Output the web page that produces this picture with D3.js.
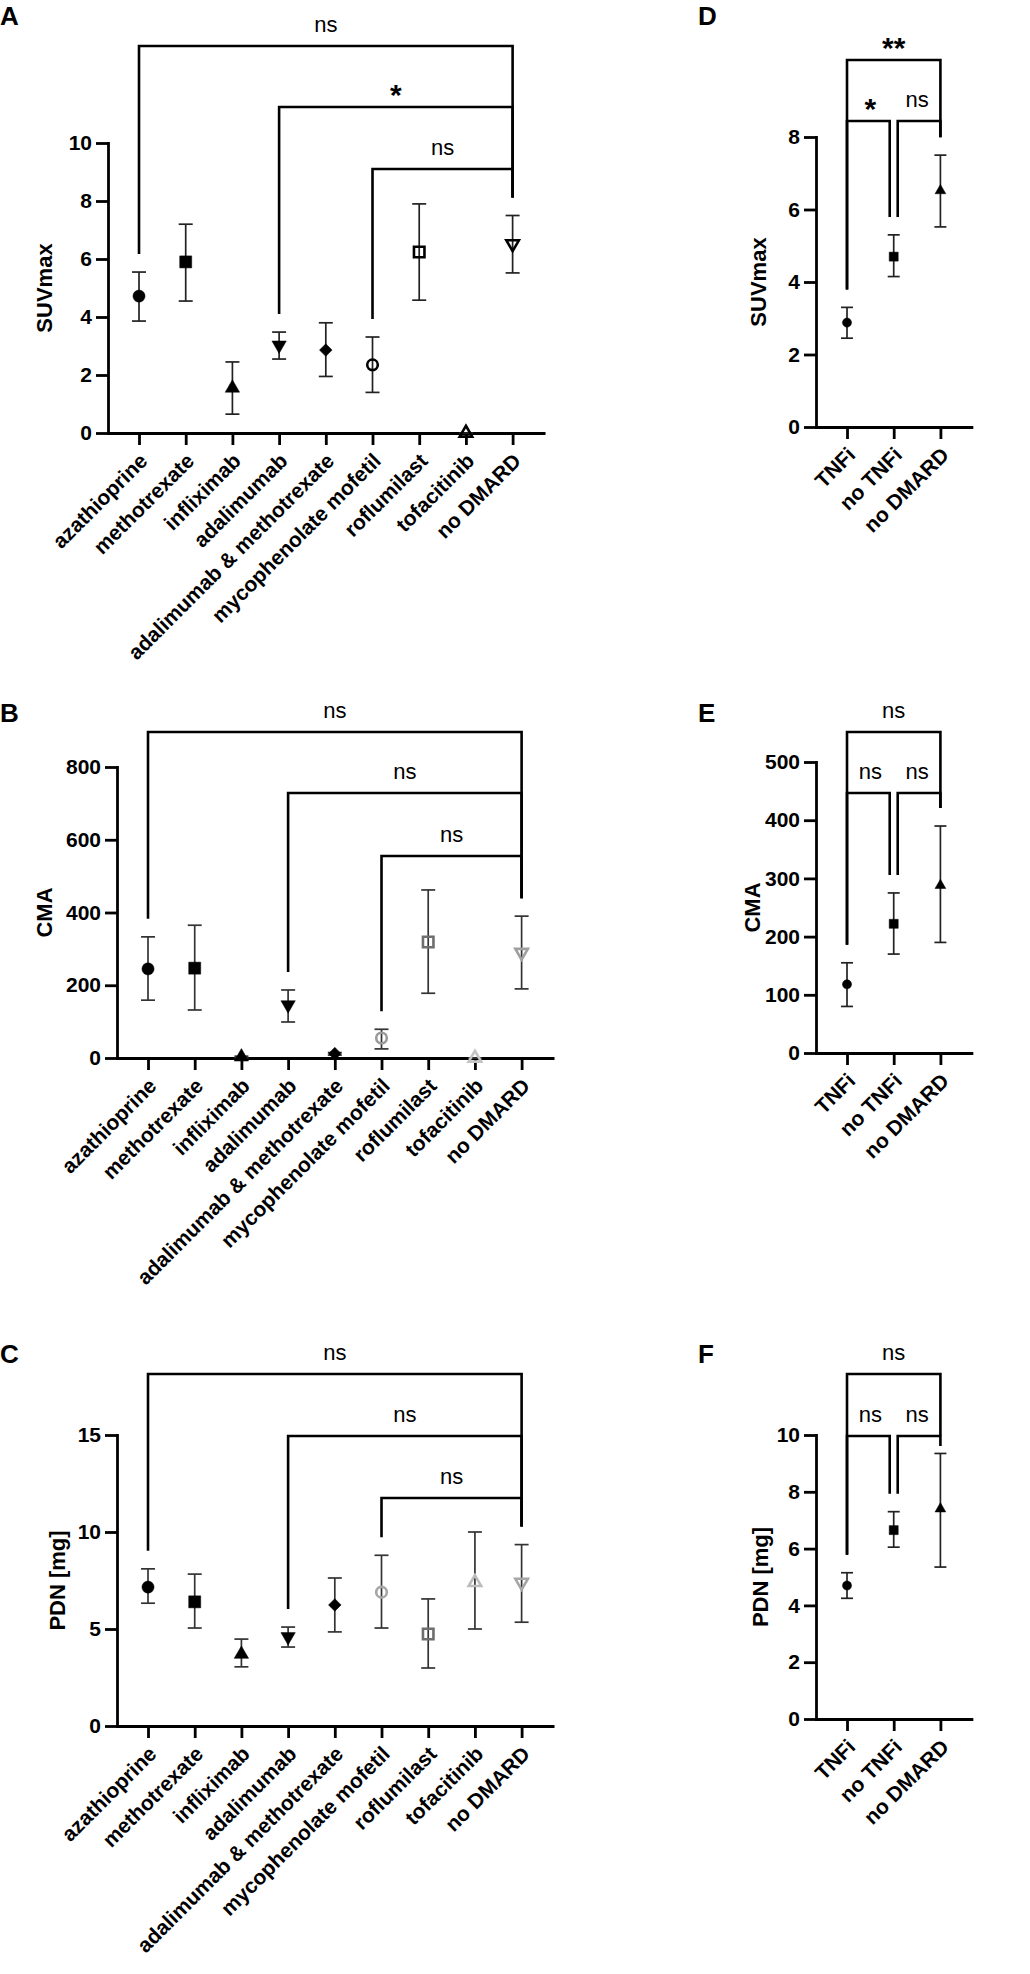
<!DOCTYPE html>
<html>
<head>
<meta charset="utf-8">
<script src="https://cdn.jsdelivr.net/npm/d3@7"></script>
<style>
body { margin: 0; background: #fff; }
text { font-family: "Liberation Sans", Arial, sans-serif; }
</style>
</head>
<body>
<script>
// categories
var drugs = ["azathioprine", "methotrexate", "infliximab", "adalimumab", "adalimumab & methotrexate",
             "mycophenolate mofetil", "roflumilast", "tofacitinib", "no DMARD"];
var groups = ["TNFi", "no TNFi", "no DMARD"];

// A - SUVmax per drug (mean, lower / upper error)
var suvMean = [4.72, 5.90, 1.55, 3.03, 2.86, 2.35, 6.24, 0, 6.52];
var suvLow  = [3.86, 4.55, 0.65, 2.55, 1.95, 1.40, 4.58, 0, 5.52];
var suvHigh = [5.55, 7.20, 2.45, 3.48, 3.80, 3.31, 7.90, 0, 7.50];

// B - CMA per drug
var cmaMean = [245, 247, 3, 146, 12, 55, 319, 0, 290];
var cmaLow  = [159, 132, 0, 99, 8, 25, 178, 0, 190];
var cmaHigh = [333, 365, 5, 187, 15, 79, 462, 0, 390];

// C - PDN [mg] per drug
var pdnMean = [7.16, 6.40, 3.70, 4.60, 6.24, 6.90, 4.74, 7.40, 7.40];
var pdnLow  = [6.33, 5.05, 3.05, 4.07, 4.85, 5.05, 2.99, 5.00, 5.35];
var pdnHigh = [8.10, 7.83, 4.48, 5.10, 7.63, 8.80, 6.55, 10.0, 9.35];

// D, E, F - grouped
var suvGrpMean = [2.88, 4.70, 6.52];
var suvGrpLow  = [2.45, 4.15, 5.52];
var suvGrpHigh = [3.30, 5.30, 7.50];
var cmaGrpMean = [118, 222, 288];
var cmaGrpLow  = [80, 170, 190];
var cmaGrpHigh = [155, 275, 390];
var pdnGrpMean = [4.70, 6.65, 7.40];
var pdnGrpLow  = [4.25, 6.05, 5.35];
var pdnGrpHigh = [5.15, 7.30, 9.35];

// tick labels
var suvTicks = [0, 2, 4, 6, 8, 10];
var cmaTicks = [0, 200, 400, 600, 800];
var pdnTicks = [0, 5, 10, 15];
var suvGrpTicks = [0, 2, 4, 6, 8];
var cmaGrpTicks = [0, 100, 200, 300, 400, 500];
var pdnGrpTicks = [0, 2, 4, 6, 8, 10];

// comparisons [from, to, label]
var cmpA = [[0, 8, "ns"], [3, 8, "*"], [5, 8, "ns"]];
var cmpB = [[0, 8, "ns"], [3, 8, "ns"], [5, 8, "ns"]];
var cmpC = [[0, 8, "ns"], [3, 8, "ns"], [5, 8, "ns"]];
var cmpD = [[0, 2, "**"], [0, 1, "*"], [1, 2, "ns"]];
var cmpE = [[0, 2, "ns"], [0, 1, "ns"], [1, 2, "ns"]];
var cmpF = [[0, 2, "ns"], [0, 1, "ns"], [1, 2, "ns"]];

// marker styles
var drugShapes = ["circle", "square", "triangle", "triangleDown", "diamond", "circle", "square", "triangle", "triangleDown"];
var drugFilled = [true, true, true, true, true, false, false, false, false];
var grpShapes = ["circle", "square", "triangle"];
var black9 = ["#000", "#000", "#000", "#000", "#000", "#000", "#000", "#000", "#000"];
var colB = ["#000", "#000", "#000", "#000", "#000", "#9a9a9a", "#6e6e6e", "#c4c4c4", "#a0a0a0"];
var colC = ["#000", "#000", "#000", "#000", "#000", "#a6a6a6", "#6e6e6e", "#bdbdbd", "#a6a6a6"];

var svg = d3.select("body").append("svg").attr("width", 1030).attr("height", 1974);

var PAD = 0.664;

function symbolPath(shape, s){
	var t = d3.symbolCircle, size = s * s * 0.8;
	if (shape == "square") { t = d3.symbolSquare; size = s * s; }
	if (shape == "triangle" || shape == "triangleDown") { t = d3.symbolTriangle; size = s * s * 0.62; }
	if (shape == "diamond") { t = d3.symbolSquare; size = s * s * 0.55; }
	return d3.symbol().type(t).size(size)();
}

function panel(p){
	var g = svg.append("g");
	var y = d3.scaleLinear().domain([0, p.ymax]).range([p.y0, p.yTop]);
	var n = p.cats.length;
	var x = d3.scalePoint().domain(d3.range(n))
		.range([p.axisX, p.axisX + p.step * (n - 1 + 2 * PAD)]).padding(PAD);

	// panel letter
	g.append("text").attr("x", p.letterX).attr("y", p.letterY)
		.attr("font-size", 26).attr("font-weight", "bold").text(p.letter);

	// y axis
	var ya = g.append("g").attr("transform", "translate(" + p.axisX + ",0)")
		.call(d3.axisLeft(y).tickValues(p.ticks).tickSize(12).tickSizeOuter(0).tickPadding(4));
	ya.select(".domain").attr("stroke-width", 2.8).attr("stroke-linecap", "square");
	ya.selectAll(".tick line").attr("stroke-width", 2.8);
	ya.selectAll(".tick text").attr("font-size", 21).attr("font-weight", "bold")
		.attr("font-family", null).attr("fill", "#000");

	// y title
	g.append("text")
		.attr("transform", "translate(" + p.titleX + "," + ((p.y0 + p.yTop) / 2) + ") rotate(-90)")
		.attr("text-anchor", "middle").attr("font-size", 22).attr("font-weight", "bold").text(p.title);

	// x axis
	var xa = g.append("g").attr("transform", "translate(0," + p.y0 + ")")
		.call(d3.axisBottom(x).tickSize(12).tickSizeOuter(0).tickFormat(function(i){ return p.cats[i]; }));
	xa.select(".domain").attr("stroke-width", 2.8).attr("stroke-linecap", "square");
	xa.selectAll(".tick line").attr("stroke-width", 2.8);
	xa.selectAll(".tick text")
		.attr("x", 0).attr("y", 0).attr("dy", "0.35em")
		.attr("text-anchor", "end")
		.attr("transform", "translate(4,24) rotate(-45)")
		.attr("font-size", 21).attr("font-weight", "bold")
		.attr("font-family", null).attr("fill", "#000");

	// error bars
	var eb = g.append("g").attr("stroke", p.barColor).attr("stroke-width", 1.7).attr("fill", "none");
	d3.range(n).forEach(function(i){
		var cx = x(i);
		eb.append("line").attr("x1", cx).attr("x2", cx).attr("y1", y(p.lo[i])).attr("y2", y(p.hi[i]));
		eb.append("line").attr("x1", cx - p.cap).attr("x2", cx + p.cap).attr("y1", y(p.lo[i])).attr("y2", y(p.lo[i]));
		eb.append("line").attr("x1", cx - p.cap).attr("x2", cx + p.cap).attr("y1", y(p.hi[i])).attr("y2", y(p.hi[i]));
	});

	// markers
	d3.range(n).forEach(function(i){
		var shape = p.shapes[i];
		var rot = shape == "triangleDown" ? 180 : (shape == "diamond" ? 45 : 0);
		var filled = p.filled[i];
		var s = filled ? p.msize : p.msize - 1.5;
		g.append("path")
			.attr("d", symbolPath(shape, s))
			.attr("transform", "translate(" + x(i) + "," + y(p.mean[i]) + ") rotate(" + rot + ")")
			.attr("fill", filled ? p.colors[i] : "none")
			.attr("stroke", p.colors[i])
			.attr("stroke-width", filled ? 0.5 : 2.6);
	});

	// significance brackets
	var bg = g.append("g");
	p.cmp.forEach(function(c, k){
		var by = p.brY[k];
		var x1 = x(c[0]), x2 = x(c[1]);
		p.cmp.forEach(function(o){
			if (o[0] == c[1]) x2 -= 4;
			if (o[1] == c[0]) x1 += 4;
		});
		var e1 = Math.max(y(p.hi[c[0]]) - 18, by + 10);
		var e2 = Math.max(y(p.hi[c[1]]) - 18, by + 10);
		bg.append("path")
			.attr("d", "M" + x1 + "," + e1 + "V" + by + "H" + x2 + "V" + e2)
			.attr("fill", "none").attr("stroke", "#000").attr("stroke-width", 2.6);
		var star = c[2] != "ns";
		bg.append("text")
			.attr("x", (x(c[0]) + x(c[1])) / 2)
			.attr("y", star ? by - 2 : by - 14)
			.attr("text-anchor", "middle")
			.attr("font-size", star ? 30 : 22)
			.attr("font-weight", star ? "bold" : "normal")
			.text(c[2]);
	});
}

panel({letter: "A", letterX: 0, letterY: 25, cats: drugs, axisX: 108, step: 46.7,
	y0: 433, yTop: 143, ymax: 10, ticks: suvTicks, title: "SUVmax", titleX: 52,
	mean: suvMean, lo: suvLow, hi: suvHigh, shapes: drugShapes, filled: drugFilled, colors: black9,
	barColor: "#222", cap: 7, msize: 12, cmp: cmpA, brY: [46, 107, 169]});

panel({letter: "B", letterX: 0, letterY: 722, cats: drugs, axisX: 117, step: 46.7,
	y0: 1058, yTop: 767, ymax: 800, ticks: cmaTicks, title: "CMA", titleX: 52,
	mean: cmaMean, lo: cmaLow, hi: cmaHigh, shapes: drugShapes, filled: drugFilled, colors: colB,
	barColor: "#333", cap: 7, msize: 12, cmp: cmpB, brY: [732, 793, 856]});

panel({letter: "C", letterX: 0, letterY: 1363, cats: drugs, axisX: 117, step: 46.7,
	y0: 1726, yTop: 1435, ymax: 15, ticks: pdnTicks, title: "PDN [mg]", titleX: 65,
	mean: pdnMean, lo: pdnLow, hi: pdnHigh, shapes: drugShapes, filled: drugFilled, colors: colC,
	barColor: "#333", cap: 7, msize: 12, cmp: cmpC, brY: [1374, 1436, 1498]});

panel({letter: "D", letterX: 698, letterY: 25, cats: groups, axisX: 816, step: 46.7,
	y0: 427, yTop: 137, ymax: 8, ticks: suvGrpTicks, title: "SUVmax", titleX: 766,
	mean: suvGrpMean, lo: suvGrpLow, hi: suvGrpHigh, shapes: grpShapes, filled: [true, true, true], colors: black9,
	barColor: "#222", cap: 6, msize: 9, cmp: cmpD, brY: [60, 121, 121]});

panel({letter: "E", letterX: 698, letterY: 722, cats: groups, axisX: 816, step: 46.7,
	y0: 1053, yTop: 762, ymax: 500, ticks: cmaGrpTicks, title: "CMA", titleX: 760,
	mean: cmaGrpMean, lo: cmaGrpLow, hi: cmaGrpHigh, shapes: grpShapes, filled: [true, true, true], colors: black9,
	barColor: "#222", cap: 6, msize: 9, cmp: cmpE, brY: [732, 793, 793]});

panel({letter: "F", letterX: 698, letterY: 1363, cats: groups, axisX: 816, step: 46.7,
	y0: 1719, yTop: 1435, ymax: 10, ticks: pdnGrpTicks, title: "PDN [mg]", titleX: 768,
	mean: pdnGrpMean, lo: pdnGrpLow, hi: pdnGrpHigh, shapes: grpShapes, filled: [true, true, true], colors: black9,
	barColor: "#222", cap: 6, msize: 9, cmp: cmpF, brY: [1374, 1436, 1436]});
</script>
</body>
</html>
